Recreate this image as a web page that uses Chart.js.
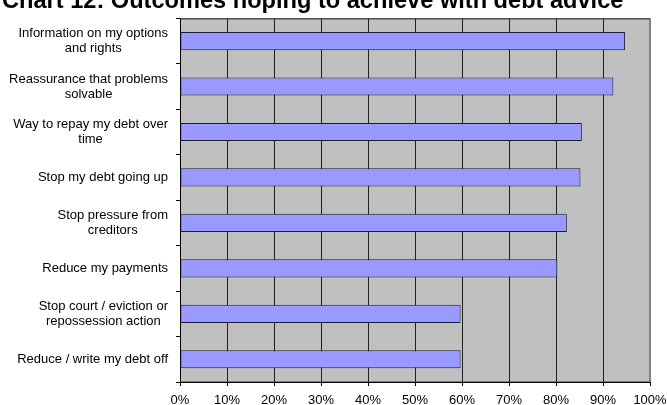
<!DOCTYPE html>
<html>
<head>
<meta charset="utf-8">
<script src="https://cdn.jsdelivr.net/npm/chart.js@4"></script>
<style>
  html, body { margin: 0; padding: 0; background: #fff; overflow: hidden; }
  #wrap { position: absolute; left: 0; top: -13px; width: 667px; height: 418px; }
</style>
</head>
<body>
<div id="wrap"><canvas id="c"></canvas></div>
<script>
const chartTitle = 'Chart 12: Outcomes hoping to achieve with debt advice';
const categories = [
  ['Information on my options', 'and rights'],
  ['Reassurance that problems', 'solvable'],
  ['Way to repay my debt over', 'time'],
  ['Stop my debt going up'],
  ['Stop pressure from', 'creditors'],
  ['Reduce my payments'],
  ['Stop court / eviction or', 'repossession action'],
  ['Reduce / write my debt off']
];
const values = [94.7, 92.2, 85.5, 85.2, 82.3, 80.3, 59.7, 59.7];
const tickLabels = ['0%', '10%', '20%', '30%', '40%', '50%', '60%', '70%', '80%', '90%', '100%'];

const FONT = '"Liberation Sans", Arial, sans-serif';

const plotBg = {
  id: 'plotBg',
  beforeDraw(chart) {
    const {ctx, chartArea: a} = chart;
    ctx.save();
    ctx.fillStyle = '#C0C0C0';
    ctx.fillRect(a.left, a.top, a.right - a.left, a.bottom - a.top);
    ctx.strokeStyle = '#808080';
    ctx.lineWidth = 1;
    ctx.strokeRect(a.left + 0.5, a.top + 0.5, a.right - a.left - 1, a.bottom - a.top - 1);
    ctx.restore();
  },
  afterDraw(chart) {
    const {ctx, chartArea: a} = chart;
    ctx.save();
    ctx.strokeStyle = '#303030';
    ctx.lineWidth = 1;
    ctx.beginPath();
    ctx.moveTo(a.left, a.top + 0.5);
    ctx.lineTo(a.right, a.top + 0.5);
    ctx.stroke();
    // category labels: block right-aligned, lines centred within block
    const y = chart.scales.y;
    ctx.font = '13px ' + FONT;
    ctx.fillStyle = '#000';
    ctx.textAlign = 'center';
    ctx.textBaseline = 'middle';
    const right = a.left - 12;
    const lh = 15;
    categories.forEach((lines, i) => {
      const py = y.getPixelForValue(i);
      const w = Math.max(...lines.map(l => ctx.measureText(l).width));
      const cx = right - w / 2;
      lines.forEach((l, j) => {
        ctx.fillText(l, cx, py + (j - (lines.length - 1) / 2) * lh);
      });
    });
    ctx.restore();
  }
};

new Chart(document.getElementById('c'), {
  type: 'bar',
  data: {
    labels: categories,
    datasets: [{
      data: values,
      backgroundColor: '#9999FF',
      borderColor: '#1a1a33',
      borderWidth: 1,
      borderSkipped: false,
      barPercentage: 0.4,
      categoryPercentage: 1.0
    }]
  },
  options: {
    indexAxis: 'y',
    responsive: true,
    maintainAspectRatio: false,
    animation: false,
    devicePixelRatio: 1,
    layout: { padding: { left: 2, right: 17, top: 0, bottom: 0 } },
    plugins: {
      legend: { display: false },
      tooltip: { enabled: false },
      title: {
        display: true,
        text: chartTitle,
        align: 'start',
        color: '#000',
        font: { family: FONT, size: 23.6, weight: 'bold', lineHeight: 1.2 },
        padding: { top: 0, bottom: 3 }
      }
    },
    scales: {
      x: {
        min: 0,
        max: 100,
        ticks: {
          stepSize: 10,
          color: '#000',
          font: { family: FONT, size: 13 },
          padding: 7,
          maxRotation: 0,
          callback: (v, i) => tickLabels[i]
        },
        grid: {
          color: ctx => (ctx.tick && ctx.tick.value === 100) ? '#808080' : '#202020',
          tickColor: '#000',
          tickLength: 4,
          lineWidth: 1
        },
        border: { color: '#000', width: 1 },
        afterFit: s => { s.height = 23; s.paddingLeft = 0; s.paddingRight = 0; }
      },
      y: {
        offset: true,
        ticks: { display: false },
        grid: {
          offset: true,
          drawOnChartArea: false,
          tickColor: '#000',
          tickLength: 4
        },
        border: { color: '#000', width: 1 },
        afterFit: s => { s.width = 178; }
      }
    }
  },
  plugins: [plotBg]
});
</script>
</body>
</html>
